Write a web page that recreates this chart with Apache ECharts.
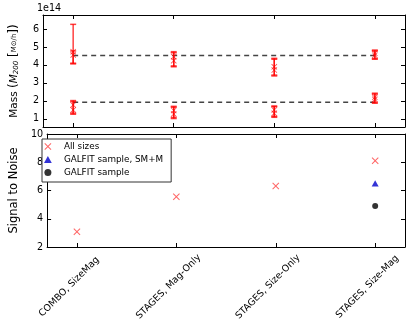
<!DOCTYPE html>
<html>
<head>
<meta charset="utf-8">
<script src="https://cdn.jsdelivr.net/npm/echarts@6/dist/echarts.min.js"></script>
<style>
  html, body { margin: 0; padding: 0; background: #fff; }
  #main { width: 415px; height: 328px; }
</style>
</head>
<body>
<div id="main"></div>
<script>
const categories = ['COMBO, SizeMag', 'STAGES, Mag-Only', 'STAGES, Size-Only', 'STAGES, Size-Mag'];
const catX = [0, 1, 2, 3];
const massTicks = [1, 2, 3, 4, 5, 6];

// mass (1e14), two overlapping estimates per group
const upperA = [4.74, 4.46, 3.90, 4.65];
const upperALow = [4.10, 3.95, 3.44, 4.36];
const upperAHigh = [6.26, 4.74, 4.37, 4.83];
const upperB = [4.56, 4.24, 3.72, 4.54];
const upperBLow = [4.06, 3.90, 3.39, 4.32];
const upperBHigh = [4.78, 4.68, 4.32, 4.78];
const lowerA = [1.78, 1.47, 1.50, 2.20];
const lowerALow = [1.32, 1.08, 1.14, 1.92];
const lowerAHigh = [2.02, 1.70, 1.72, 2.43];
const lowerB = [1.50, 1.28, 1.31, 2.09];
const lowerBLow = [1.26, 1.02, 1.09, 1.87];
const lowerBHigh = [1.96, 1.65, 1.68, 2.38];
const meanHigh = 4.53;
const meanLow = 1.92;

// signal to noise
const allSizes = [3.08, 5.56, 6.32, 8.11];
const galfitSMM = [[3, 6.51]];
const galfit = [[3, 4.90]];

const crossPath = 'path://M0,1L1,0L5,4L9,0L10,1L6,5L10,9L9,10L5,6L1,10L0,9L4,5Z';
const triPath = 'path://M5,0L10,9L0,9Z';
const font = 'DejaVu Sans';

const chart = echarts.init(document.getElementById('main'));

function errRender(params, api) {
    const x = api.value(0);
    const lo = api.coord([x, api.value(1)]);
    const hi = api.coord([x, api.value(2)]);
    const w = 3;
    const style = { stroke: 'rgba(255,0,0,0.75)', lineWidth: 1.5 };
    return {
        type: 'group',
        children: [
            { type: 'line', shape: { x1: lo[0], y1: lo[1], x2: hi[0], y2: hi[1] }, style },
            { type: 'line', shape: { x1: lo[0] - w, y1: lo[1], x2: lo[0] + w, y2: lo[1] }, style },
            { type: 'line', shape: { x1: hi[0] - w, y1: hi[1], x2: hi[0] + w, y2: hi[1] }, style }
        ]
    };
}

const zip3 = (lo, hi) => catX.map((x, i) => [x, lo[i], hi[i]]);
const zip2 = (v) => catX.map((x, i) => [x, v[i]]);

function xAx(grid, pos, labels) {
    return {
        type: 'value', gridIndex: grid, position: pos, min: -0.3, max: 3.3,
        axisLine: { onZero: false, lineStyle: { color: '#000', width: 1 } },
        axisTick: { inside: true, length: 4, customValues: catX, lineStyle: { color: '#000' } },
        axisLabel: labels ? {
            customValues: catX, rotate: 45, align: 'center', verticalAlign: 'middle', margin: 32,
            padding: [0, 22, 0, 0],
            fontFamily: font, fontSize: 9.4, color: '#000',
            formatter: v => categories[Math.round(v)]
        } : { show: false },
        splitLine: { show: false }
    };
}

function yAx(grid, pos, opts) {
    return Object.assign({
        type: 'value', gridIndex: grid, position: pos,
        axisLine: { onZero: false, lineStyle: { color: '#000', width: 1 } },
        splitLine: { show: false }
    }, opts);
}

const tickStyle = { inside: true, length: 4, lineStyle: { color: '#000' } };
const labelStyle = { fontFamily: font, fontSize: 9.6, color: '#000', margin: 4 };

const option = {
    animation: false,
    backgroundColor: '#fff',
    title: {
        text: '1e14', left: 37, top: 3, padding: 0,
        textStyle: { fontFamily: font, fontSize: 9.6, fontWeight: 'normal', color: '#000' }
    },
    grid: [
        { left: 37, right: 10, top: 15, height: 112 },
        { left: 37, right: 10, top: 134, height: 113 }
    ],
    legend: {
        left: 42, top: 139, orient: 'vertical',
        itemWidth: 22, itemHeight: 7, itemGap: 0, symbolKeepAspect: true,
        padding: [1, 8, 3, 2],
        borderColor: '#333', borderWidth: 1, backgroundColor: '#fff',
        textStyle: { fontFamily: font, fontSize: 8.8, color: '#000', lineHeight: 13 },
        data: [
            { name: 'All sizes', icon: crossPath },
            { name: 'GALFIT sample, SM+M', icon: triPath },
            { name: 'GALFIT sample', icon: 'circle' }
        ]
    },
    xAxis: [xAx(0, 'bottom', false), xAx(0, 'top', false), xAx(1, 'bottom', true), xAx(1, 'top', false)],
    yAxis: [
        yAx(0, 'left', {
            min: 0.55, max: 6.78,
            axisTick: Object.assign({ customValues: massTicks }, tickStyle),
            axisLabel: Object.assign({ customValues: massTicks }, labelStyle),
            name: '{n|Mass }{p|(}{i|M}{s|200}{p| [}{f|M⊙/h}{p|])}',
            nameLocation: 'middle', nameGap: 23,
            nameTextStyle: {
                rich: {
                    n: { fontFamily: font, fontSize: 10.5, color: '#000' },
                    p: { fontFamily: font, fontSize: 12, color: '#000' },
                    i: { fontFamily: font, fontSize: 10.5, fontStyle: 'italic', color: '#000' },
                    s: { fontFamily: font, fontSize: 7, fontStyle: 'italic', color: '#000', padding: [5, 0, 0, 0] },
                    f: { fontFamily: font, fontSize: 7, color: '#000' }
                }
            }
        }),
        yAx(0, 'right', {
            min: 0.55, max: 6.78,
            axisTick: Object.assign({ customValues: massTicks }, tickStyle),
            axisLabel: { show: false }
        }),
        yAx(1, 'left', {
            min: 2, max: 10, interval: 2,
            axisTick: tickStyle,
            axisLabel: labelStyle,
            name: 'Signal to Noise', nameLocation: 'middle', nameGap: 22,
            nameTextStyle: { fontFamily: font, fontSize: 11.5, color: '#000' }
        }),
        yAx(1, 'right', {
            min: 2, max: 10, interval: 2,
            axisTick: tickStyle,
            axisLabel: { show: false }
        })
    ],
    series: [
        { type: 'line', xAxisIndex: 0, yAxisIndex: 0, data: [[0, meanHigh], [3, meanHigh]], symbol: 'none',
          lineStyle: { color: '#444', width: 1.5, type: [5, 4] }, z: 1 },
        { type: 'line', xAxisIndex: 0, yAxisIndex: 0, data: [[0, meanLow], [3, meanLow]], symbol: 'none',
          lineStyle: { color: '#444', width: 1.5, type: [5, 4] }, z: 1 },
        { type: 'custom', xAxisIndex: 0, yAxisIndex: 0, renderItem: errRender, encode: { x: 0, y: [1, 2] }, data: zip3(upperALow, upperAHigh), z: 3 },
        { type: 'custom', xAxisIndex: 0, yAxisIndex: 0, renderItem: errRender, encode: { x: 0, y: [1, 2] }, data: zip3(upperBLow, upperBHigh), z: 3 },
        { type: 'custom', xAxisIndex: 0, yAxisIndex: 0, renderItem: errRender, encode: { x: 0, y: [1, 2] }, data: zip3(lowerALow, lowerAHigh), z: 3 },
        { type: 'custom', xAxisIndex: 0, yAxisIndex: 0, renderItem: errRender, encode: { x: 0, y: [1, 2] }, data: zip3(lowerBLow, lowerBHigh), z: 3 },
        { type: 'scatter', name: 'mass', xAxisIndex: 0, yAxisIndex: 0, symbol: crossPath, symbolSize: 6,
          itemStyle: { color: 'rgba(255,0,0,0.85)' }, z: 4,
          data: zip2(upperA).concat(zip2(upperB), zip2(lowerA), zip2(lowerB)) },
        { type: 'scatter', name: 'All sizes', xAxisIndex: 2, yAxisIndex: 2, symbol: crossPath, symbolSize: 7,
          itemStyle: { color: '#ff4040' }, data: zip2(allSizes) },
        { type: 'scatter', name: 'GALFIT sample, SM+M', xAxisIndex: 2, yAxisIndex: 2, symbol: triPath, symbolSize: 7,
          symbolKeepAspect: true, itemStyle: { color: '#0000cc' }, data: galfitSMM },
        { type: 'scatter', name: 'GALFIT sample', xAxisIndex: 2, yAxisIndex: 2, symbol: 'circle', symbolSize: 6,
          itemStyle: { color: '#000' }, data: galfit }
    ]
};

chart.setOption(option);
</script>
</body>
</html>
